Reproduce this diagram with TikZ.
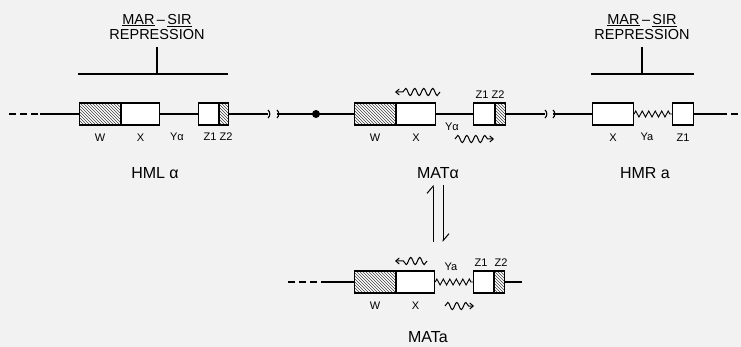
\documentclass[tikz,border=0pt]{standalone}
\usepackage{fontspec}
\setsansfont{Liberation Sans}
\usetikzlibrary{arrows.meta,positioning,calc,patterns,decorations.pathmorphing}
\definecolor{paper}{RGB}{242,242,242}

\begin{document}
\begin{tikzpicture}[x=1pt,y=-1pt,line width=1.1pt,
    every node/.style={font=\sffamily},
    seg/.style={draw,fill=white,inner sep=0pt,minimum height=22pt,anchor=west},
    hseg/.style={seg,preaction={fill=white},pattern=north west lines,pattern color=black!75},
    lbl/.style={inner sep=0pt,font=\sffamily\fontsize{11}{12}\selectfont},
    locus/.style={inner sep=0pt,font=\sffamily\fontsize{16}{18}\selectfont},
    repr/.style={inner sep=0pt,align=center,font=\sffamily\fontsize{14.5}{15.5}\selectfont},
    dashline/.style={dash pattern=on 7pt off 4pt},
    wave/.style={decorate,decoration={snake,amplitude=3.6pt,segment length=9pt,post length=4pt},line width=1pt,-{Straight Barb[length=3.5pt,width=6pt]}},
    zz/.style={decorate,decoration={zigzag,amplitude=3pt,segment length=6.5pt},line width=0.9pt},
    harp/.style={line width=1pt,-{Straight Barb[left,length=7pt,width=12pt]}}]
  \useasboundingbox (0,0) rectangle (741,347);
  \fill[paper] (0,0) rectangle (741,347);

  % HML alpha
  \coordinate (hmlL) at (9,114);
  \coordinate (hmlS) at (40,114);
  \coordinate (brA) at (268,114);
  \node[hseg,minimum width=41pt] (hmlW) at (79,114) {};
  \node[seg,minimum width=38pt] (hmlX) at (hmlW.east) {};
  \node[seg,minimum width=20pt] (hmlZa) at (198,114) {};
  \node[hseg,minimum width=9pt] (hmlZb) at (hmlZa.east) {};
  \draw[dashline] (hmlL) -- (hmlS);
  \draw (hmlS) -- (hmlW);
  \draw (hmlX) -- (hmlZa);
  \draw (hmlZb) -- (brA);
  \node[lbl,below=8pt of hmlW] {W};
  \node[lbl,below=8pt of hmlX] {X};
  \node[lbl] at (177,137) {Yα};
  \node[lbl] at (210,137) {Z1};
  \node[lbl] at (226,137) {Z2};
  \node[locus] at (155,173) {HML α};

  \coordinate (hmlBarL) at (78,74);
  \coordinate (hmlBarR) at (228,74);
  \coordinate (hmlBarM) at (157,74);
  \coordinate (hmlBarT) at (157,47);
  \draw (hmlBarL) -- (hmlBarR);
  \draw (hmlBarM) -- (hmlBarT);
  \node[repr] at (157,27) {\underline{MAR}\,--\,\underline{SIR}\\REPRESSION};

  % MAT alpha
  \coordinate (brB) at (277,114);
  \coordinate (cen) at (316,114);
  \coordinate (brC) at (545,114);
  \fill (cen) circle (4pt);
  \node[hseg,minimum width=41pt] (maW) at (354,114) {};
  \node[seg,minimum width=39pt] (maX) at (maW.east) {};
  \node[seg,minimum width=21pt] (maZa) at (473,114) {};
  \node[hseg,minimum width=10pt] (maZb) at (maZa.east) {};
  \draw (brB) -- (maW);
  \draw (maX) -- (maZa);
  \draw (maZb) -- (brC);
  \node[lbl,below=8pt of maW] {W};
  \node[lbl,below=8pt of maX] {X};
  \node[lbl] at (452,127) {Yα};
  \node[lbl] at (482,95) {Z1};
  \node[lbl] at (498,95) {Z2};
  \coordinate (maWvA) at (440,92);
  \coordinate (maWvB) at (395,92);
  \coordinate (maWvC) at (455,139);
  \coordinate (maWvD) at (494,139);
  \draw[wave] (maWvA) -- (maWvB);
  \draw[wave] (maWvC) -- (maWvD);
  \node[locus] (matA) at (438,173) {MATα};

  % HMR a
  \coordinate (brD) at (553,114);
  \coordinate (hmrS) at (720,114);
  \coordinate (hmrR) at (741,114);
  \node[seg,minimum width=41pt] (hmrX) at (592,114) {};
  \node[seg,minimum width=21pt] (hmrZa) at (672,114) {};
  \draw (brD) -- (hmrX);
  \draw[zz] (hmrX) -- (hmrZa);
  \draw (hmrZa) -- (hmrS);
  \draw[dashline] (hmrS) -- (hmrR);
  \node[lbl,below=8pt of hmrX] {X};
  \node[lbl] at (647,137) {Ya};
  \node[lbl,below=8pt of hmrZa] {Z1};
  \node[locus] at (645,173) {HMR a};

  \coordinate (hmrBarL) at (591,74);
  \coordinate (hmrBarR) at (694,74);
  \coordinate (hmrBarM) at (642,74);
  \coordinate (hmrBarT) at (642,47);
  \draw (hmrBarL) -- (hmrBarR);
  \draw (hmrBarM) -- (hmrBarT);
  \node[repr] at (642,27) {\underline{MAR}\,--\,\underline{SIR}\\REPRESSION};

  % breaks
  \draw ([yshift=4pt]brA) to[bend left=50] ([yshift=-4pt]brA);
  \draw ([yshift=4pt]brB) to[bend left=50] ([yshift=-4pt]brB);
  \draw ([yshift=4pt]brC) to[bend left=50] ([yshift=-4pt]brC);
  \draw ([yshift=4pt]brD) to[bend left=50] ([yshift=-4pt]brD);

  % switching
  \coordinate (hpLt) at (433,185);
  \coordinate (hpLb) at (433,242);
  \coordinate (hpRt) at (443,185);
  \coordinate (hpRb) at (443,242);
  \draw[harp] (hpLb) -- (hpLt);
  \draw[harp] (hpRt) -- (hpRb);

  % MAT a
  \coordinate (mbL) at (288,282);
  \coordinate (mbS) at (322,282);
  \coordinate (mbR) at (522,282);
  \node[hseg,minimum width=41pt] (mbW) at (354,282) {};
  \node[seg,minimum width=38pt] (mbX) at (mbW.east) {};
  \node[seg,minimum width=20pt] (mbZa) at (473,282) {};
  \node[hseg,minimum width=10pt] (mbZb) at (mbZa.east) {};
  \draw[dashline] (mbL) -- (mbS);
  \draw (mbS) -- (mbW);
  \draw[zz] (mbX) -- (mbZa);
  \draw (mbZb) -- (mbR);
  \node[lbl,below=8pt of mbW] {W};
  \node[lbl,below=8pt of mbX] {X};
  \node[lbl] at (451,267) {Ya};
  \node[lbl] at (481,263) {Z1};
  \node[lbl] at (501,263) {Z2};
  \coordinate (mbWvA) at (427,261);
  \coordinate (mbWvB) at (395,261);
  \coordinate (mbWvC) at (445,306);
  \coordinate (mbWvD) at (474,306);
  \draw[wave] (mbWvA) -- (mbWvB);
  \draw[wave] (mbWvC) -- (mbWvD);
  \node[locus] at (428,337) {MATa};
\end{tikzpicture}
\end{document}
